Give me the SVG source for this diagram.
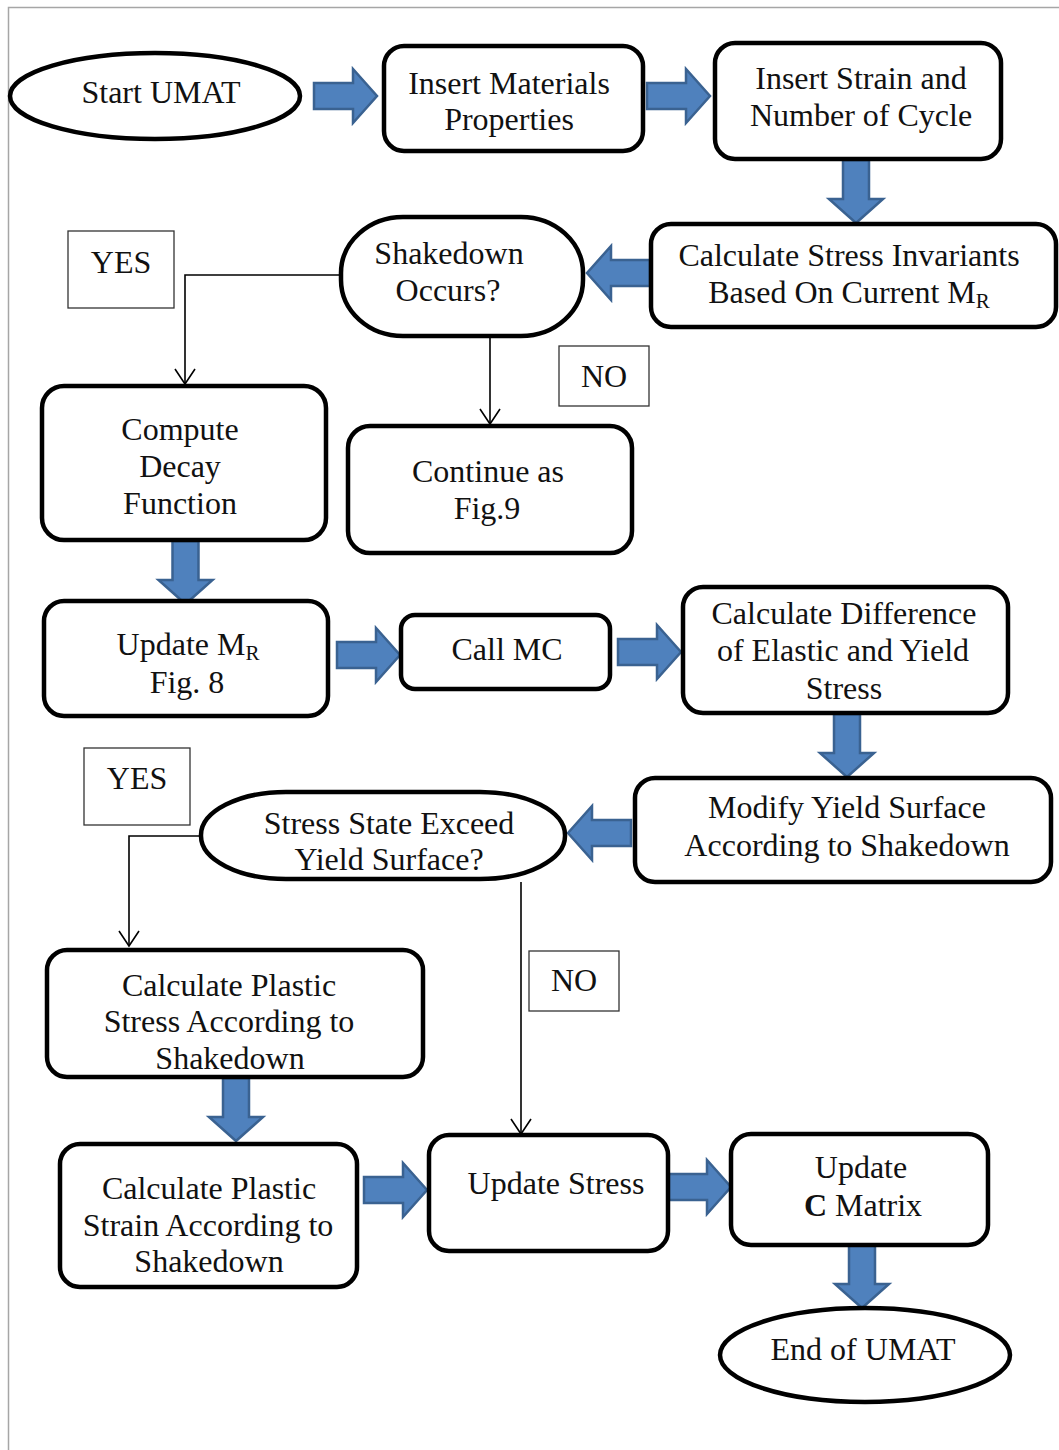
<svg xmlns="http://www.w3.org/2000/svg" xmlns:xlink="http://www.w3.org/1999/xlink" width="1059" height="1450" viewBox="0 0 1059 1450">
  <style>
    .node { fill: #ffffff; stroke: #000000; stroke-width: 4.5; }
    .label { fill: #ffffff; stroke: #333333; stroke-width: 1.3; }
    .t { font-family: "Liberation Serif", "Times New Roman", serif; font-size: 32px; fill: #111111; text-anchor: middle; }
    .sub { font-size: 21px; }
    .link { fill: none; stroke: #000000; stroke-width: 1.6; }
    .block { fill: #4f81bd; stroke: #3a6291; stroke-width: 2.5; stroke-linejoin: miter; }
    .page { stroke: #a6a6a6; stroke-width: 1.5; fill: none; }
  </style>
  <defs>
    <!-- right-pointing block arrow, tail at origin, centred on y=0 -->
    <path id="barrow" d="M0,-13 L39,-13 L39,-27 L63,0 L39,27 L39,13 L0,13 Z"/>
    <marker id="vhead" markerUnits="userSpaceOnUse" markerWidth="20" markerHeight="24" refX="0" refY="0" viewBox="-17 -12 20 24" orient="auto" overflow="visible">
      <path d="M-15,-10 L0,0 L-15,10" fill="none" stroke="#000000" stroke-width="1.6"/>
    </marker>
  </defs>

  <rect width="1059" height="1450" fill="#ffffff"/>
  <!-- page frame -->
  <path class="page" d="M8.5,1450 L8.5,7.5 L1059,7.5"/>

  <!-- connectors -->
  <g id="connectors">
    <g class="block">
      <use xlink:href="#barrow" transform="translate(314,96)"/>
      <use xlink:href="#barrow" transform="translate(647,96)"/>
      <use xlink:href="#barrow" transform="translate(856,160) rotate(90)"/>
      <use xlink:href="#barrow" transform="translate(650,273) rotate(180)"/>
      <use xlink:href="#barrow" transform="translate(185.5,541) rotate(90)"/>
      <use xlink:href="#barrow" transform="translate(337,655)"/>
      <use xlink:href="#barrow" transform="translate(618,652)"/>
      <use xlink:href="#barrow" transform="translate(847,714) rotate(90)"/>
      <use xlink:href="#barrow" transform="translate(631,833) rotate(180)"/>
      <use xlink:href="#barrow" transform="translate(236,1078) rotate(90)"/>
      <use xlink:href="#barrow" transform="translate(364,1190)"/>
      <use xlink:href="#barrow" transform="translate(668,1187)"/>
      <use xlink:href="#barrow" transform="translate(862,1245) rotate(90)"/>
    </g>
    <path class="link" d="M341,275 L185,275 L185,384" marker-end="url(#vhead)"/>
    <path class="link" d="M490,337 L490,424" marker-end="url(#vhead)"/>
    <path class="link" d="M203,836 L129,836 L129,946" marker-end="url(#vhead)"/>
    <path class="link" d="M521,882 L521,1134" marker-end="url(#vhead)"/>
  </g>

  <!-- branch labels -->
  <g id="label-yes-1">
    <rect class="label" x="68" y="231" width="106" height="77"/>
    <text class="t" x="121" y="273">YES</text>
  </g>
  <g id="label-no-1">
    <rect class="label" x="559" y="346" width="90" height="60"/>
    <text class="t" x="604" y="387">NO</text>
  </g>
  <g id="label-yes-2">
    <rect class="label" x="84" y="748" width="106" height="77"/>
    <text class="t" x="137" y="789">YES</text>
  </g>
  <g id="label-no-2">
    <rect class="label" x="529" y="951" width="90" height="60"/>
    <text class="t" x="574" y="991">NO</text>
  </g>

  <!-- nodes -->
  <g id="start-umat">
    <ellipse class="node" cx="155" cy="96" rx="145" ry="43"/>
    <text class="t" x="161" y="103">Start UMAT</text>
  </g>
  <g id="insert-materials">
    <rect class="node" x="384" y="46" width="259" height="105" rx="20"/>
    <text class="t" x="509" y="94">Insert Materials</text>
    <text class="t" x="509" y="130">Properties</text>
  </g>
  <g id="insert-strain">
    <rect class="node" x="715" y="43" width="286" height="116" rx="20"/>
    <text class="t" x="861" y="89">Insert Strain and</text>
    <text class="t" x="861" y="126">Number of Cycle</text>
  </g>
  <g id="stress-invariants">
    <rect class="node" x="651" y="224" width="405" height="103" rx="20"/>
    <text class="t" x="849" y="266">Calculate Stress Invariants</text>
    <text class="t" x="849" y="303">Based On Current M<tspan class="sub" dy="5">R</tspan></text>
  </g>
  <g id="shakedown-occurs">
    <rect class="node" x="341" y="217" width="242" height="119" rx="62" ry="56"/>
    <text class="t" x="449" y="264">Shakedown</text>
    <text class="t" x="448" y="301">Occurs?</text>
  </g>
  <g id="compute-decay">
    <rect class="node" x="42" y="386" width="284" height="154" rx="22"/>
    <text class="t" x="180" y="440">Compute</text>
    <text class="t" x="180" y="477">Decay</text>
    <text class="t" x="180" y="514">Function</text>
  </g>
  <g id="continue-fig9">
    <rect class="node" x="348" y="426" width="284" height="127" rx="22"/>
    <text class="t" x="488" y="482">Continue as</text>
    <text class="t" x="487" y="519">Fig.9</text>
  </g>
  <g id="update-mr">
    <rect class="node" x="44" y="601" width="284" height="115" rx="20"/>
    <text class="t" x="188" y="655">Update M<tspan class="sub" dy="5">R</tspan></text>
    <text class="t" x="187" y="693">Fig. 8</text>
  </g>
  <g id="call-mc">
    <rect class="node" x="401" y="615" width="209" height="74" rx="14"/>
    <text class="t" x="507" y="660">Call MC</text>
  </g>
  <g id="difference">
    <rect class="node" x="683" y="587" width="325" height="126" rx="20"/>
    <text class="t" x="844" y="624">Calculate Difference</text>
    <text class="t" x="843" y="661">of Elastic and Yield</text>
    <text class="t" x="844" y="699">Stress</text>
  </g>
  <g id="modify-yield">
    <rect class="node" x="635" y="778" width="416" height="104" rx="20"/>
    <text class="t" x="847" y="818">Modify Yield Surface</text>
    <text class="t" x="847" y="856">According to Shakedown</text>
  </g>
  <g id="exceed-yield">
    <rect class="node" x="201" y="792" width="364" height="87" rx="85" ry="43"/>
    <text class="t" x="389" y="834">Stress State Exceed</text>
    <text class="t" x="389" y="870">Yield Surface?</text>
  </g>
  <g id="plastic-stress">
    <rect class="node" x="47" y="950" width="376" height="127" rx="20"/>
    <text class="t" x="229" y="996">Calculate Plastic</text>
    <text class="t" x="229" y="1032">Stress According to</text>
    <text class="t" x="230" y="1069">Shakedown</text>
  </g>
  <g id="plastic-strain">
    <rect class="node" x="60" y="1144" width="297" height="143" rx="20"/>
    <text class="t" x="209" y="1199">Calculate Plastic</text>
    <text class="t" x="208" y="1236">Strain According to</text>
    <text class="t" x="209" y="1272">Shakedown</text>
  </g>
  <g id="update-stress">
    <rect class="node" x="429" y="1135" width="239" height="116" rx="20"/>
    <text class="t" x="556" y="1194">Update Stress</text>
  </g>
  <g id="update-c">
    <rect class="node" x="731" y="1134" width="257" height="111" rx="20"/>
    <text class="t" x="861" y="1178">Update</text>
    <text class="t" x="863" y="1216"><tspan font-weight="bold">C</tspan> Matrix</text>
  </g>
  <g id="end-umat">
    <ellipse class="node" cx="865" cy="1355" rx="145" ry="47"/>
    <text class="t" x="863" y="1360">End of UMAT</text>
  </g>
</svg>
